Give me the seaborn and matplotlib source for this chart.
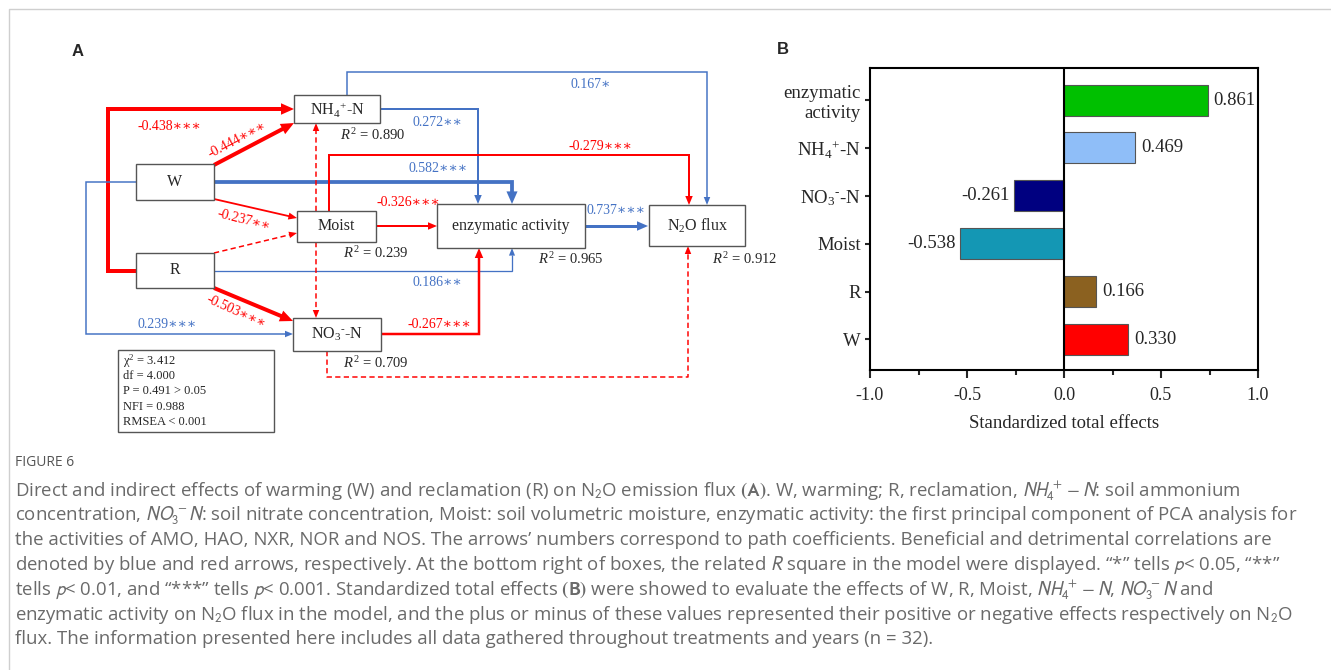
import numpy as np
import pandas as pd
import matplotlib
matplotlib.use("Agg")
import matplotlib.pyplot as plt
import seaborn as sns
from matplotlib.patches import Rectangle, Polygon

# ---------------- data ----------------
# Panel A : structural equation (path) model
node_keys = ["W", "R", "Moist", "NH4", "NO3", "enz", "N2O"]
node_labels = ["W", "R", "Moist", "NH$_4{}^{+}$-N", r"NO$_3{}^{\text{-}}$-N",
               "enzymatic activity", "N$_2$O flux"]

path_from = ["R", "W", "W", "R", "R", "R", "W", "W", "NH4", "NH4",
             "Moist", "Moist", "Moist", "Moist", "NO3", "NO3", "enz"]
path_to = ["NH4", "NH4", "Moist", "Moist", "enz", "NO3", "NO3", "enz", "enz", "N2O",
           "N2O", "enz", "NH4", "NO3", "enz", "N2O", "N2O"]
path_coef = [-0.438, -0.444, -0.237, np.nan, 0.186, -0.503, 0.239, 0.582, 0.272, 0.167,
             -0.279, -0.326, np.nan, np.nan, -0.267, np.nan, 0.737]
path_sig = [3, 3, 2, 0, 2, 3, 3, 3, 2, 1, 3, 3, 0, 0, 3, 0, 3]

r2_nodes = ["NH4", "Moist", "enz", "N2O", "NO3"]
r2_values = [0.890, 0.239, 0.965, 0.912, 0.709]

fit_lines = ["χ$^2$ = 3.412", "df = 4.000", "P = 0.491 > 0.05", "NFI = 0.988", "RMSEA < 0.001"]

# Panel B : standardized total effects
effect_labels = ["enzymatic\nactivity", "NH$_4{}^{+}$-N", r"NO$_3{}^{\text{-}}$-N", "Moist", "R", "W"]
effect_bar = [0.741, 0.368, -0.259, -0.538, 0.166, 0.332]      # bar lengths as drawn
effect_text = ["0.861", "0.469", "-0.261", "-0.538", "0.166", "0.330"]
effect_colors = ["#00C000", "#8FBEF8", "#000080", "#1497B4", "#8B6120", "#FF0000"]

caption_title = "FIGURE 6"
caption_lines = [
    r"Direct and indirect effects of warming (W) and reclamation (R) on N$_2$O emission flux $\mathbf{(A)}$. W, warming; R, reclamation, $NH_4^+ - N$: soil ammonium",
    r"concentration, $NO_3^-N$: soil nitrate concentration, Moist: soil volumetric moisture, enzymatic activity: the first principal component of PCA analysis for",
    r"the activities of AMO, HAO, NXR, NOR and NOS. The arrows’ numbers correspond to path coefficients. Beneficial and detrimental correlations are",
    r"denoted by blue and red arrows, respectively. At the bottom right of boxes, the related $R$ square in the model were displayed. “*” tells $p$< 0.05, “**”",
    r"tells $p$< 0.01, and “***” tells $p$< 0.001. Standardized total effects $\mathbf{(B)}$ were showed to evaluate the effects of W, R, Moist, $NH_4^+ - N$, $NO_3^-N$ and",
    r"enzymatic activity on N$_2$O flux in the model, and the plus or minus of these values represented their positive or negative effects respectively on N$_2$O",
    r"flux. The information presented here includes all data gathered throughout treatments and years (n = 32).",
]

# ---------------- layout (pixel coordinates of the diagram) ----------------
box = {"W": (136, 164, 214, 200), "R": (136, 253, 214, 288), "Moist": (297, 211, 376, 242),
       "NH4": (294, 95, 380, 123), "NO3": (293, 318, 381, 351), "enz": (437, 204, 585, 248),
       "N2O": (649, 205, 745, 246)}
routes = [
    [(136, 270.5), (108, 270.5), (108, 109), (294, 109)],
    [(214, 165), (294, 123)],
    [(214, 199), (297, 218)],
    [(214, 253), (297, 233)],
    [(214, 270.5), (512, 270.5), (512, 248)],
    [(214, 288), (293, 321)],
    [(136, 182), (86, 182), (86, 334), (293, 334)],
    [(214, 182), (512, 182), (512, 204)],
    [(380, 109), (478, 109), (478, 204)],
    [(347, 95), (347, 72), (707, 72), (707, 205)],
    [(329, 211), (329, 155), (689, 155), (689, 205)],
    [(376, 226), (437, 226)],
    [(316, 211), (316, 123)],
    [(316, 242), (316, 318)],
    [(381, 334), (479, 334), (479, 248)],
    [(327, 351), (327, 377), (688, 377), (688, 246)],
    [(585, 226), (648, 226)],
]
widths_px = [4, 4, 1.8, 1.5, 1.3, 4, 1.5, 3.8, 2, 1.5, 2, 2, 1.5, 1.5, 2.5, 1.5, 3]
label_pos = [(169, 126, 0), (237, 140, 28), (244, 220, -14), None, (437, 283, 0),
             (236, 312, -24), (167, 324, 0), (438, 168, 0), (437, 122, 0), (591, 84, 0),
             (600, 147, 0), (408, 202, 0), None, None, (439, 325, 0), None, (616, 211, 0)]
r2_pos = {"NH4": (340, 135), "Moist": (343, 253), "enz": (538, 259), "N2O": (712, 259), "NO3": (343, 363)}

RED, BLUE = "#FF0000", "#4472C4"
SERIF = ["Liberation Serif", "DejaVu Serif"]
SANS_CAP = ["Open Sans", "DejaVu Sans"]

# ---------------- style ----------------
sns.set_style("white")
plt.rcParams["font.family"] = SERIF
plt.rcParams["mathtext.fontset"] = "custom"
plt.rcParams["mathtext.rm"] = "Liberation Serif"
plt.rcParams["mathtext.it"] = "Liberation Serif:italic"
plt.rcParams["mathtext.bf"] = "Liberation Serif:bold"

fig = plt.figure(figsize=(13.31, 6.70), dpi=100)
ax = fig.add_axes([0, 0, 1, 1])
ax.set_xlim(0, 1331)
ax.set_ylim(670, 0)
ax.axis("off")

# page frame
ax.plot([9, 9, 1331], [670, 9, 9], color="#cfcfcf", lw=1.0)

# panel letters
ax.text(78, 51, "A", fontsize=12, fontweight="bold", family="Liberation Sans", ha="center", va="center")
ax.text(783, 49, "B", fontsize=12, fontweight="bold", family="Liberation Sans", ha="center", va="center")


def draw_arrow(pts, color, lw_px, dashed):
    pts = np.array(pts, float)
    d = pts[-1] - pts[-2]
    d = d / np.linalg.norm(d)
    hl = 5 + 2.0 * lw_px
    hw = 3.5 + 2.0 * lw_px
    base = pts[-1] - d * hl
    line = np.vstack([pts[:-1], base + d * 1.0])
    ax.plot(line[:, 0], line[:, 1], color=color, lw=lw_px * 0.72,
            ls=(0, (3.5, 2.2)) if dashed else "-", solid_capstyle="butt",
            dash_capstyle="butt", solid_joinstyle="miter", zorder=2)
    n = np.array([-d[1], d[0]])
    tri = [pts[-1], base + n * hw / 2, base - n * hw / 2]
    ax.add_patch(Polygon(tri, closed=True, facecolor=color, edgecolor="none", zorder=2))


for i in range(len(path_from)):
    coef = path_coef[i]
    sig = path_sig[i]
    ns = sig == 0
    color = RED if (ns or coef < 0) else BLUE
    draw_arrow(routes[i], color, widths_px[i], ns)
    if not ns and label_pos[i] is not None:
        x, y, rot = label_pos[i]
        ax.text(x, y, f"{coef:.3f}" + "∗" * sig, color=color, fontsize=10, family=SERIF,
                ha="center", va="center", rotation=rot, rotation_mode="anchor")

# node boxes
for key, lab in zip(node_keys, node_labels):
    x0, y0, x1, y1 = box[key]
    ax.add_patch(Rectangle((x0, y0), x1 - x0, y1 - y0, facecolor="white",
                           edgecolor="#555555", lw=1.0, zorder=3))
    ax.text((x0 + x1) / 2, (y0 + y1) / 2, lab, fontsize=11.5, ha="center", va="center",
            zorder=4)

for key, val in zip(r2_nodes, r2_values):
    x, y = r2_pos[key]
    ax.text(x, y, f"$R^2$ = {val:.3f}", fontsize=10.5, ha="left", va="center")

# fit statistics box
ax.add_patch(Rectangle((118, 350), 156, 82, facecolor="white", edgecolor="#555555", lw=1.0))
for k, line in enumerate(fit_lines):
    ax.text(123, 361 + 15.2 * k, line, fontsize=9, ha="left", va="center")

# caption
ax.text(15, 463, caption_title, fontsize=10, color="#555555", family=SANS_CAP,
        ha="left", va="center")
for k, line in enumerate(caption_lines):
    t = ax.text(15, 491 + 24.7 * k, line, fontsize=13.4, color="#6a6a6a", family=SANS_CAP,
                ha="left", va="center")
    t.set_math_fontfamily("stixsans")

# ---------------- panel B ----------------
axb = fig.add_axes([870 / 1331, (670 - 370) / 670, 388 / 1331, 302 / 670])
df = pd.DataFrame({"factor": effect_labels, "effect": effect_bar})
sns.barplot(data=df, x="effect", y="factor", hue="factor", palette=effect_colors,
            order=effect_labels, hue_order=effect_labels, orient="h", width=0.65,
            saturation=1, edgecolor="#555555", linewidth=0.8, legend=False, ax=axb)
axb.set_xlim(-1.0, 1.0)
axb.set_ylim(5.64, -0.67)
axb.axvline(0, color="black", lw=1.5, zorder=5)
for i, (v, lab) in enumerate(zip(effect_bar, effect_text)):
    axb.annotate(lab, (v, i), xytext=(4 if v > 0 else -3, 0), textcoords="offset points",
                 ha="left" if v > 0 else "right", va="center", fontsize=13.5)
axb.set_xticks([-1.0, -0.5, 0.0, 0.5, 1.0])
axb.set_xticklabels(["-1.0", "-0.5", "0.0", "0.5", "1.0"])
axb.set_xticks([-0.75, -0.25, 0.25, 0.75], minor=True)
axb.tick_params(axis="x", which="major", direction="out", length=6, width=1.5,
                labelsize=13, pad=6, bottom=True)
axb.tick_params(axis="x", which="minor", direction="out", length=3.5, width=1.5, bottom=True)
axb.tick_params(axis="y", direction="out", length=3.5, width=1.5, labelsize=13.5, pad=3, left=True)
axb.set_xlabel("Standardized total effects", fontsize=13.5, labelpad=8)
axb.set_ylabel("")
for sp in axb.spines.values():
    sp.set_linewidth(1.5)
    sp.set_color("black")
axb.grid(False)

fig.savefig("out.png", dpi=100)
